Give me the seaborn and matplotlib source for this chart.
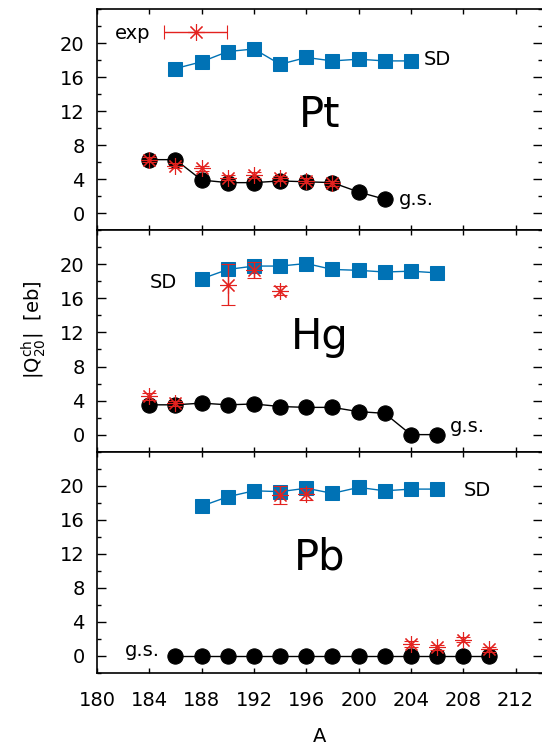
import numpy as np
import pandas as pd
import seaborn as sns
import matplotlib.pyplot as plt
from matplotlib.ticker import MultipleLocator
from matplotlib.legend_handler import HandlerErrorbar

# --- data ---
# Pt
pt_gs_A = [184, 186, 188, 190, 192, 194, 196, 198, 200, 202]
pt_gs_Q = [6.3, 6.3, 3.9, 3.6, 3.6, 3.8, 3.7, 3.6, 2.5, 1.65]
pt_sd_A = [186, 188, 190, 192, 194, 196, 198, 200, 202, 204]
pt_sd_Q = [17.0, 17.8, 19.0, 19.3, 17.5, 18.3, 17.9, 18.1, 17.9, 17.9]
pt_exp_A = [184, 186, 188, 190, 192, 194, 196, 198]
pt_exp_Q = [6.3, 5.6, 5.3, 4.2, 4.5, 4.1, 3.8, 3.5]
pt_exp_err = [0.3, 0.3, 0.3, 0.3, 0.3, 0.3, 0.3, 0.3]

# Hg
hg_gs_A = [184, 186, 188, 190, 192, 194, 196, 198, 200, 202, 204, 206]
hg_gs_Q = [3.5, 3.5, 3.7, 3.5, 3.6, 3.3, 3.2, 3.2, 2.7, 2.5, 0.0, 0.0]
hg_sd_A = [188, 190, 192, 194, 196, 198, 200, 202, 204, 206]
hg_sd_Q = [18.3, 19.4, 19.8, 19.8, 20.1, 19.4, 19.3, 19.1, 19.2, 19.0]
hg_exp_A = [184, 186, 190, 192, 194]
hg_exp_Q = [4.5, 3.7, 17.6, 19.3, 16.9]
hg_exp_err = [0.4, 0.3, 2.4, 0.95, 0.5]

# Pb
pb_gs_A = [186, 188, 190, 192, 194, 196, 198, 200, 202, 204, 206, 208, 210]
pb_gs_Q = [0.0] * 13
pb_sd_A = [188, 190, 192, 194, 196, 198, 200, 202, 204, 206]
pb_sd_Q = [17.6, 18.7, 19.4, 19.3, 19.7, 19.1, 19.8, 19.4, 19.6, 19.6]
pb_exp_A = [194, 196, 204, 206, 208, 210]
pb_exp_Q = [18.9, 19.0, 1.4, 1.0, 1.9, 0.8]
pb_exp_err = [1.05, 0.7, 0.3, 0.3, 0.3, 0.3]

panels = [
    ("Pt", pt_gs_A, pt_gs_Q, pt_sd_A, pt_sd_Q, pt_exp_A, pt_exp_Q, pt_exp_err,
     (205.0, 18.1), (203.1, 1.65)),
    ("Hg", hg_gs_A, hg_gs_Q, hg_sd_A, hg_sd_Q, hg_exp_A, hg_exp_Q, hg_exp_err,
     (184.0, 17.9), (207.0, 1.0)),
    ("Pb", pb_gs_A, pb_gs_Q, pb_sd_A, pb_sd_Q, pb_exp_A, pb_exp_Q, pb_exp_err,
     (208.0, 19.4), (182.1, 0.6)),
]

blue = "#0072b5"
red = "#e3221f"
fs = 14

sns.set_theme(style="ticks")
plt.rcParams['font.family'] = ['DejaVu Sans']
plt.rcParams['xtick.direction'] = 'in'
plt.rcParams['ytick.direction'] = 'in'
for key in ['text.color', 'axes.labelcolor', 'xtick.color', 'ytick.color',
            'axes.edgecolor']:
    plt.rcParams[key] = 'black'

fig, axes = plt.subplots(3, 1, figsize=(5.42, 7.48), dpi=100, sharex=True,
                         gridspec_kw=dict(hspace=0))
fig.subplots_adjust(left=0.179, right=0.9995, top=0.988, bottom=0.1003)

for i, (name, gA, gQ, sA, sQ, eA, eQ, eE, sd_pos, gs_pos) in enumerate(panels):
    ax = axes[i]
    gs = pd.DataFrame({"A": gA, "Q": gQ})
    sd = pd.DataFrame({"A": sA, "Q": sQ})
    sns.lineplot(data=sd, x="A", y="Q", ax=ax, color=blue, lw=1.0,
                 marker="s", markersize=10, markeredgecolor=blue, zorder=2)
    sns.lineplot(data=gs, x="A", y="Q", ax=ax, color="black", lw=1.0,
                 marker="o", markersize=11, markeredgecolor="black", zorder=2)
    ax.errorbar(eA, eQ, yerr=eE, ls="none", marker=(8, 2, 0), markersize=12,
                color=red, mew=0.8, ecolor=red, elinewidth=1.0,
                capsize=5, capthick=1.0, zorder=3)

    ax.text(197, 10.1, name, fontsize=30, ha="center", va="baseline")
    ax.text(sd_pos[0], sd_pos[1], "SD", fontsize=fs, ha="left", va="center")
    ax.text(gs_pos[0], gs_pos[1], "g.s.", fontsize=fs, ha="left", va="center")

    ax.set_xlim(180, 214)
    ax.set_ylim(-2, 24)
    ax.set_xlabel("")
    ax.set_ylabel("")
    ax.set_yticks([0, 4, 8, 12, 16, 20])
    ax.yaxis.set_minor_locator(MultipleLocator(2))
    ax.xaxis.set_major_locator(MultipleLocator(4))
    ax.tick_params(axis="y", which="major", length=6.5, width=1, left=True,
                   right=True, labelsize=fs, pad=9)
    ax.tick_params(axis="y", which="minor", length=3, width=1, left=True,
                   right=True)
    ax.tick_params(axis="x", which="major", length=3.5, width=1, top=True,
                   bottom=True, labelsize=fs, pad=13)
    ax.spines["right"].set_visible(False)
    for sp in ["left", "top", "bottom"]:
        ax.spines[sp].set_linewidth(1.2)

# legend sample for the experimental points (nan point, only its handle shows)
h = axes[0].errorbar([np.nan], [np.nan], xerr=[1.0], ls="none",
                     marker=(8, 2, 0), markersize=12, color=red, mew=0.8,
                     ecolor=red, elinewidth=1.0, capsize=5, capthick=1.0)
axes[0].legend([h], ["exp"], loc="upper left", bbox_to_anchor=(0.0, 1.01),
               frameon=False, fontsize=fs, markerfirst=False, numpoints=1,
               handlelength=3.3, handletextpad=0.7,
               handler_map={h: HandlerErrorbar(xerr_size=1.62)})

axes[2].set_xlabel("A", fontsize=fs, labelpad=12)
fig.text(0.062, 0.559, r"|Q$_{20}^{\rm ch}$|  [eb]", rotation=90,
         fontsize=fs, ha="center", va="center")

fig.savefig("out.png", dpi=100)
